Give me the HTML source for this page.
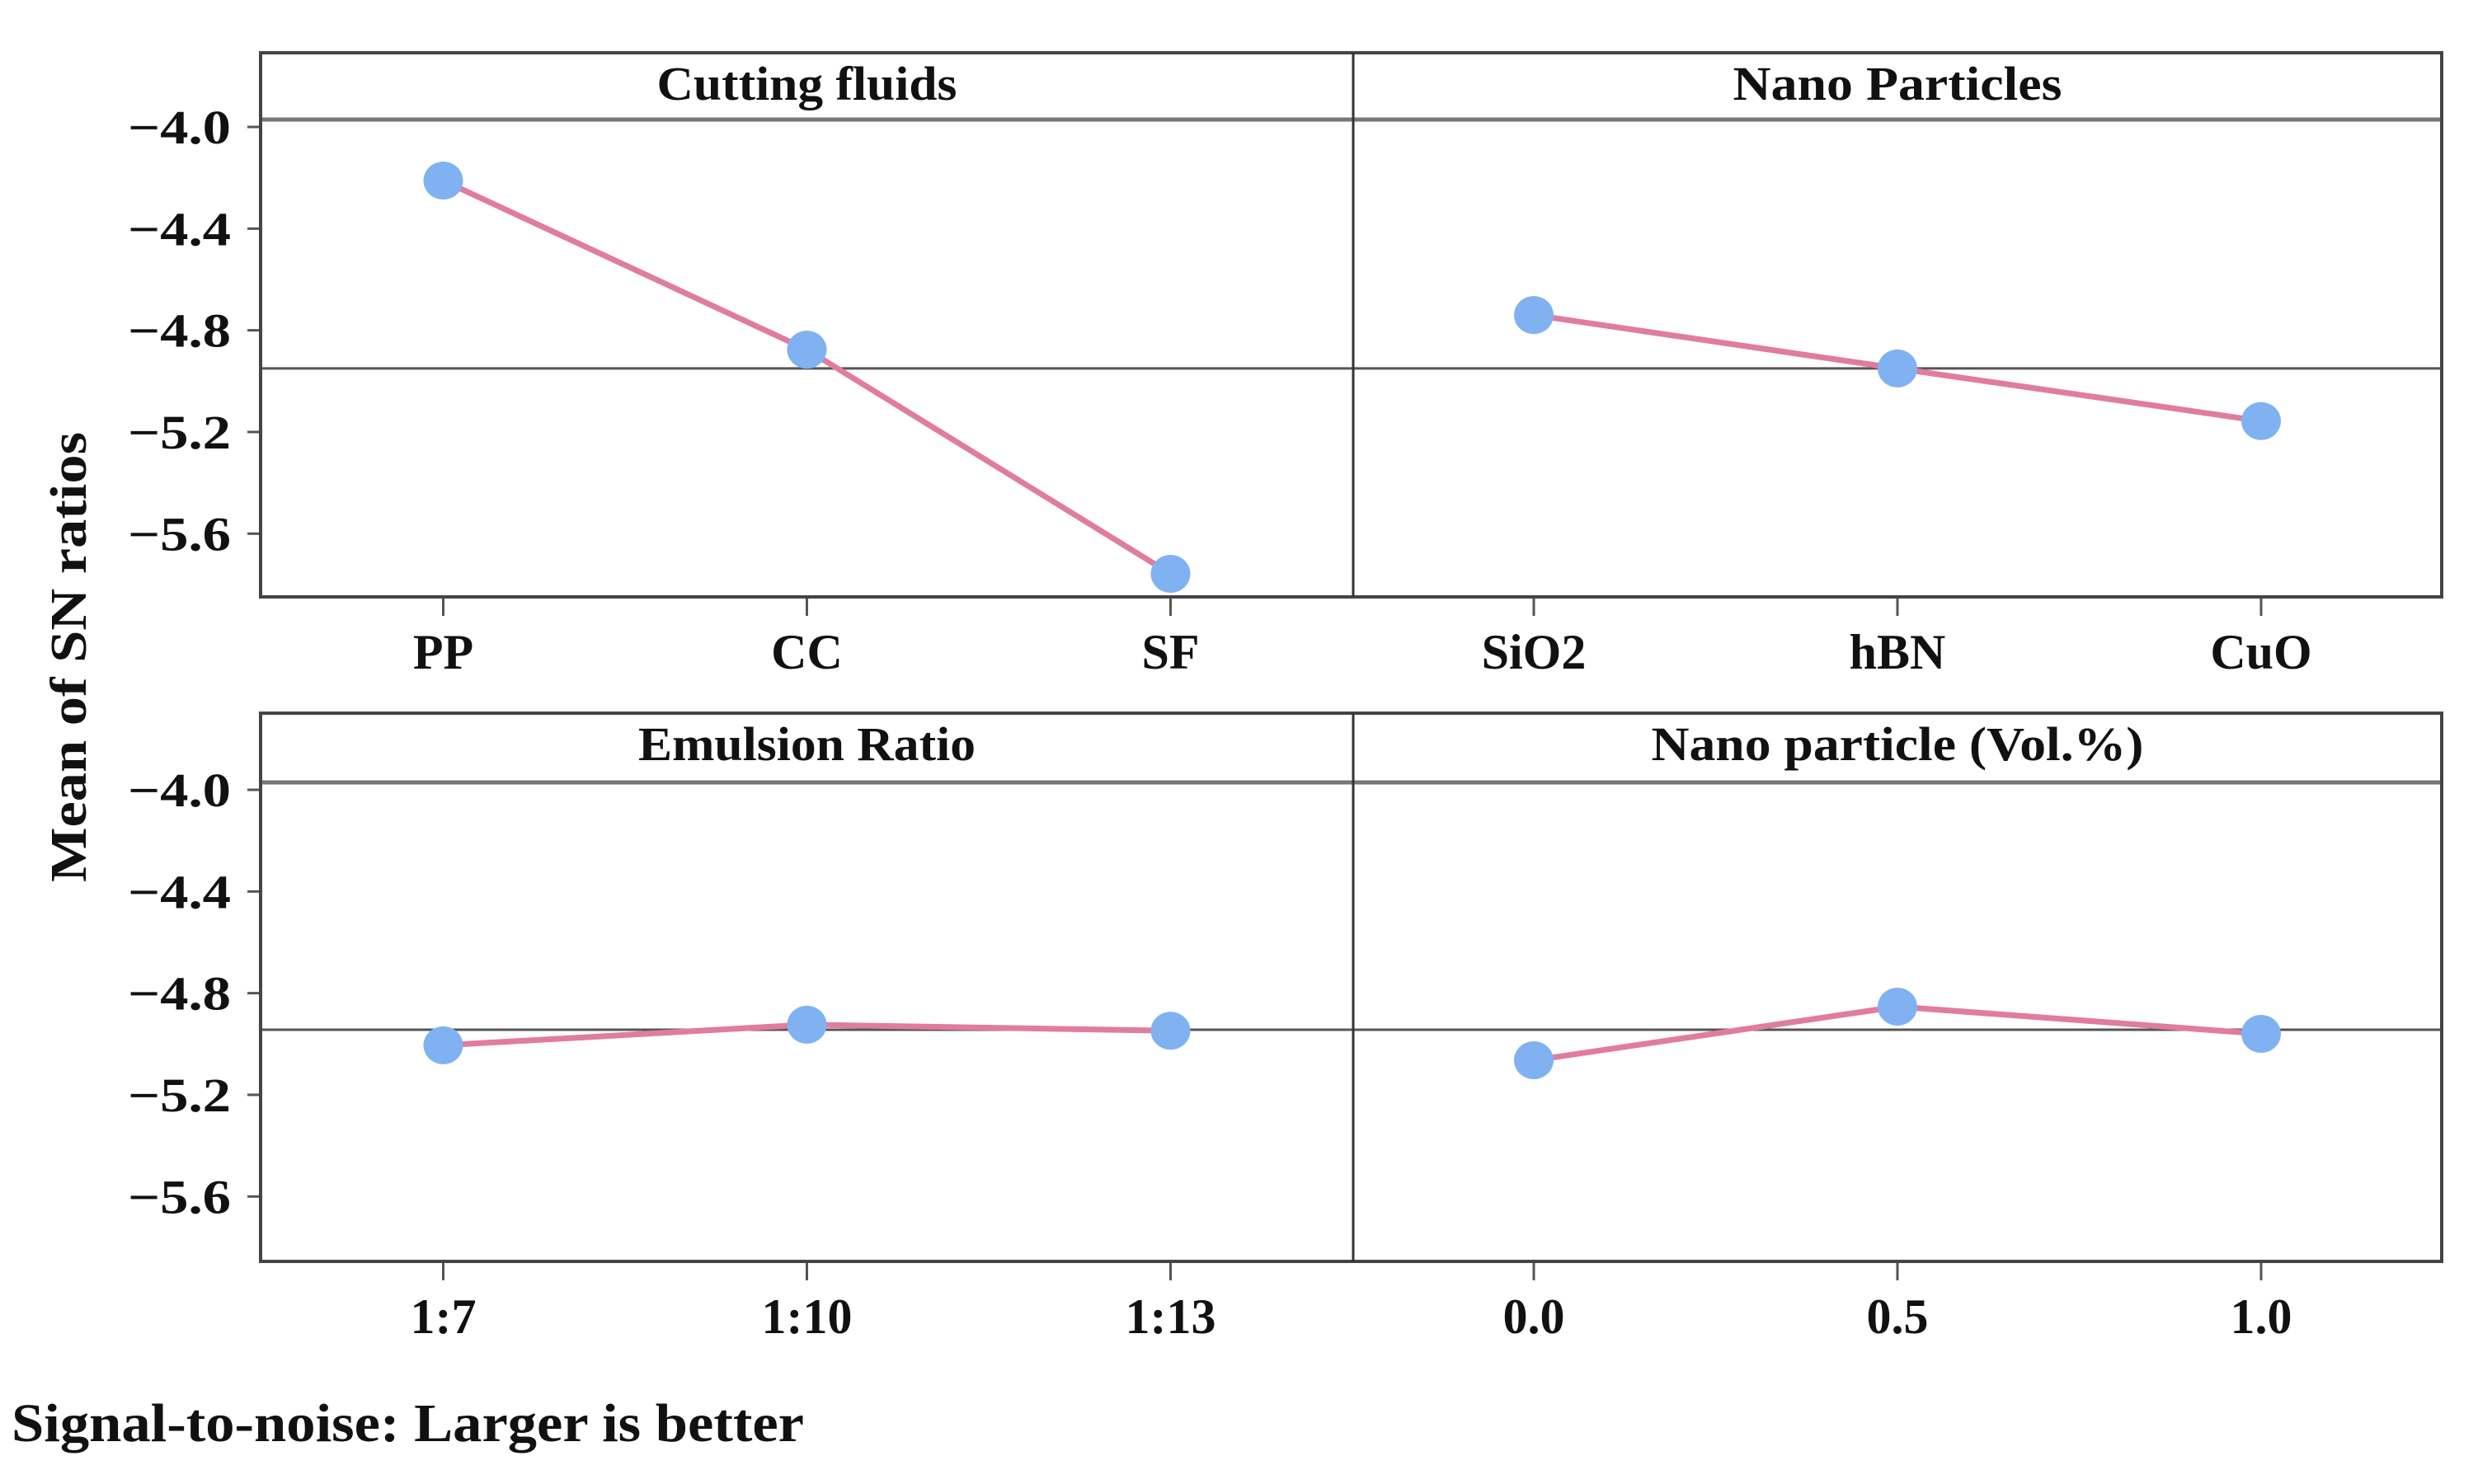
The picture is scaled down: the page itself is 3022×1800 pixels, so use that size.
<!DOCTYPE html>
<html><head><meta charset="utf-8"><style>
html,body{margin:0;padding:0;background:#fff;}
svg{display:block;font-family:"Liberation Serif",serif;font-weight:bold;}
</style></head><body>
<svg id="chart" width="3022" height="1800" viewBox="0 0 3022 1800" xmlns="http://www.w3.org/2000/svg"></svg>
<script>
const panelTitles = ["Cutting fluids","Nano Particles","Emulsion Ratio","Nano particle (Vol.%)"];
const levelsCF = ["PP","CC","SF"];
const levelsNP = ["SiO2","hBN","CuO"];
const levelsER = ["1:7","1:10","1:13"];
const levelsVol = ["0.0","0.5","1.0"];
const valuesCF = [-4.211,-4.876,-5.758];
const valuesNP = [-4.74,-4.95,-5.157];
const valuesER = [-5.005,-4.924,-4.948];
const valuesVol = [-5.064,-4.853,-4.96];
const meanLine = [-4.95,-4.95,-4.944,-4.944];
const yTicks = [-4.0,-4.4,-4.8,-5.2,-5.6];
const yTickLabels = ["\u22124.0","\u22124.4","\u22124.8","\u22125.2","\u22125.6"];
const titleWidths = [364,399,409,597];

const NS="http://www.w3.org/2000/svg";
const svg=document.getElementById('chart');
function mk(tag,attrs,parent){const e=document.createElementNS(NS,tag);for(const k in attrs)e.setAttribute(k,attrs[k]);(parent||svg).appendChild(e);return e;}

const colX=[[316,1641],[1641,2961]];
const rowY=[{top:64,strip:145,bottom:724},{top:865,strip:949,bottom:1530}];
const levels=[levelsCF,levelsNP,levelsER,levelsVol];
const values=[valuesCF,valuesNP,valuesER,valuesVol];

function yScale(row,v){return rowY[row].strip+9+(-4.0-v)*308.3;}
function xScale(col,i){const l=colX[col][0],r=colX[col][1];const c=(l+r)/2;return c+(i-1)*441;}

for(let p=0;p<4;p++){
  const row=Math.floor(p/2),col=p%2;
  const R=rowY[row],L=colX[col][0],Rr=colX[col][1];
  const g=mk('g',{});
  
  
  const t=mk('text',{x:(L+Rr)/2,y:R.top+57,'font-size':58,'text-anchor':'middle',fill:'#111',textLength:titleWidths[p],lengthAdjust:'spacingAndGlyphs'},g);
  t.textContent=panelTitles[p];
  
  
  const sl=mk('line',{x1:L,x2:Rr,y1:R.strip,y2:R.strip,stroke:'#777',"stroke-width":5},g);
  
  
  const ym=yScale(row,meanLine[p]);
  const ml=mk('line',{x1:L,x2:Rr,y1:ym,y2:ym,stroke:'#555',"stroke-width":3},g);
  
  
  const pts=values[p].map((v,i)=>xScale(col,i)+','+yScale(row,v)).join(' ');
  const pl=mk('polyline',{points:pts,fill:'none',stroke:'#e07ca0',"stroke-width":7},g);
  
  
  values[p].forEach((v,i)=>{
    const c=mk('ellipse',{cx:xScale(col,i),cy:yScale(row,v),rx:24,ry:23,fill:'#80b2f2'},g);
    
    
  });
  levels[p].forEach((lab,i)=>{
    const x=xScale(col,i);
    const tk=mk('line',{x1:x,x2:x,y1:R.bottom,y2:R.bottom+23,stroke:'#555',"stroke-width":3},g);
    
    
    const tx=mk('text',{x:x,y:R.bottom+87,'font-size':60,'text-anchor':'middle',fill:'#111'},g);
    tx.textContent=lab;
    
    
  });
  if(col===0){
    yTicks.forEach((v,i)=>{
      const y=yScale(row,v);
      const tk=mk('line',{x1:300,x2:316,y1:y,y2:y,stroke:'#555',"stroke-width":3},g);
      
      
      const tx=mk('text',{x:280,y:y+20,'font-size':58,'text-anchor':'end',fill:'#111',textLength:125,lengthAdjust:'spacingAndGlyphs'},g);
      tx.textContent=yTickLabels[i];
      
      
    });
  }
}
for(let row=0;row<2;row++){
  const R=rowY[row];
  const b=mk('rect',{x:316,y:R.top,width:2961-316,height:R.bottom-R.top,fill:'none',stroke:'#444',"stroke-width":4});
  
  
  const d=mk('line',{x1:1641,x2:1641,y1:R.top,y2:R.bottom,stroke:'#333',"stroke-width":3});
  
  
}
const yl=mk('text',{x:0,y:0,'font-size':62,'text-anchor':'middle',fill:'#111',transform:'translate(104,797) rotate(-90)',textLength:546,lengthAdjust:'spacingAndGlyphs'});
yl.textContent='Mean of SN ratios';


const ft=mk('text',{x:14,y:1748,'font-size':66,fill:'#111',textLength:961,lengthAdjust:'spacingAndGlyphs'});
ft.textContent='Signal-to-noise: Larger is better';


</script>
</body></html>
